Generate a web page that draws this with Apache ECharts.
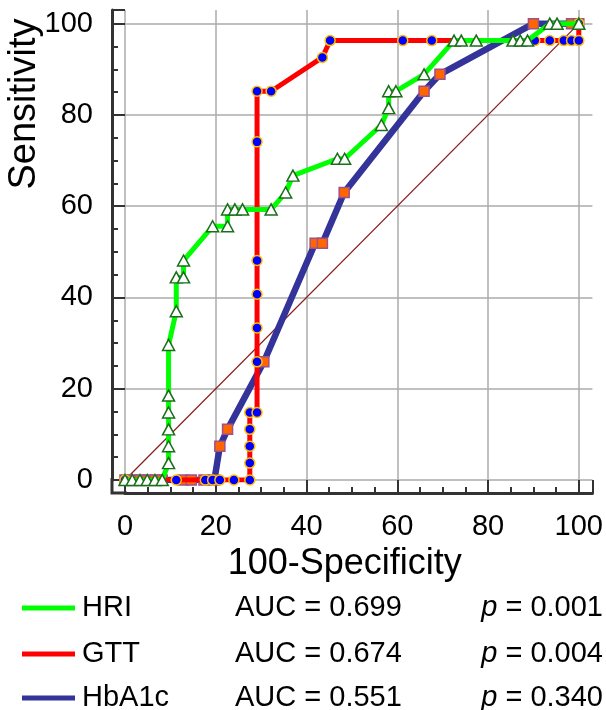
<!DOCTYPE html>
<html><head><meta charset="utf-8">
<script src="https://cdn.jsdelivr.net/npm/echarts@6/dist/echarts.min.js"></script>
<style>html,body{margin:0;padding:0;background:#fff}#c{width:606px;height:710px}</style>
</head><body><div id="c"></div>
<script>
// ---- data ----
const hriX = [0,1.6,3.3,4.9,6.6,8.2,9.6,9.6,9.6,9.6,9.6,9.6,11.3,11.3,12.9,12.9,19.3,22.6,22.6,24.2,25.9,32.2,35.4,37.0,46.8,48.4,56.5,58.1,58.1,59.7,65.9,72.5,74.1,77.4,85.5,87.1,88.7,93.6,95.2,100];
const hriY = [0,0,0,0,0,0,3.7,7.4,11.1,14.8,18.5,29.6,37.0,44.4,44.4,48.1,55.6,55.6,59.3,59.3,59.3,59.3,63.0,66.7,70.4,70.4,77.8,81.5,85.2,85.2,88.9,96.3,96.3,96.3,96.3,96.3,96.3,100,100,100];
const gttX = [0,11.3,17.7,19.3,20.9,24.0,27.5,27.5,27.5,27.5,27.5,29.1,29.1,29.1,29.1,29.1,29.1,29.1,32.2,43.5,45.2,61.2,67.6,90.3,93.6,96.7,98.4,100,100];
const gttY = [0,0,0,0,0,0,0,3.7,7.4,11.1,14.8,14.8,25.9,33.3,40.7,48.1,74.1,85.2,85.2,92.6,96.3,96.3,96.3,96.3,96.3,96.3,96.3,96.3,100];
const hbaX = [0,1.6,3.3,4.9,6.6,8.2,12.8,14.6,17.4,19.7,20.9,22.6,30.6,41.9,43.5,48.3,65.9,69.4,90.0,98.4,100];
const hbaY = [0,0,0,0,0,0,0,0,0,0,7.4,11.1,25.9,51.9,51.9,63.0,85.2,88.9,100,100,100];
const refX = [0,100];
const refY = [0,100];
const names = ['HRI','GTT','HbA1c'];
const aucs = ['0.699','0.674','0.551'];
const pvals = ['0.001','0.004','0.340'];
const xTitle = '100-Specificity';
const yTitle = 'Sensitivity';

// ---- styling ----
const FONT = '"Liberation Sans", Arial, sans-serif';
const colors = ['#00ff00','#ff0000','#333399'];
const GL = 125, GR = 10, GT = 10, GB = 230, OFF = 13;
const pairs = (xs, ys) => xs.map((x, i) => [x, ys[i]]);

function majorAxis(pos) {
  return {
    type: 'value', min: 0, max: 103, interval: 20, position: pos, offset: OFF,
    axisLine: {show: true, onZero: false, lineStyle: {color: '#333', width: 3}},
    axisTick: {show: true, inside: true, length: 13, lineStyle: {color: '#333', width: 2}},
    axisLabel: {formatter: v => (v % 20 === 0 ? String(v) : ''), fontSize: 29, color: '#000',
                fontFamily: FONT, margin: pos === 'bottom' ? 19 : 19},
    splitLine: {show: true, showMinLine: true, showMaxLine: false, lineStyle: {color: '#ababab', width: 1.5}}
  };
}
function minorAxis(pos) {
  return {
    type: 'value', min: 0, max: 103, interval: 5, position: pos, offset: OFF,
    axisLine: {show: false, onZero: false},
    axisTick: {show: true, inside: true, length: 6, lineStyle: {color: '#333', width: 2}},
    axisLabel: {show: false}, splitLine: {show: false}
  };
}

const chart = echarts.init(document.getElementById('c'));
const legendGraphics = [];
const rowY = [608, 654, 698];
names.forEach((n, i) => {
  legendGraphics.push({type: 'line', shape: {x1: 22, y1: rowY[i], x2: 75, y2: rowY[i]},
    style: {stroke: colors[i], lineWidth: 5}});
  legendGraphics.push({type: 'text', x: 82, y: rowY[i],
    style: {text: n, font: '29px ' + FONT, fill: '#000', textVerticalAlign: 'middle', verticalAlign: 'middle'}});
  legendGraphics.push({type: 'text', x: 235, y: rowY[i],
    style: {text: 'AUC = ' + aucs[i], font: '29px ' + FONT, fill: '#000', textVerticalAlign: 'middle', verticalAlign: 'middle'}});
  legendGraphics.push({type: 'text', x: 603, y: rowY[i],
    style: {text: '{i|p} = ' + pvals[i], font: '29px ' + FONT, fill: '#000', align: 'right', textAlign: 'right',
      verticalAlign: 'middle', textVerticalAlign: 'middle',
      rich: {i: {fontStyle: 'italic', fontSize: 29, fontFamily: FONT}}}});
});

const option = {
  animation: false,
  backgroundColor: '#fff',
  grid: {left: GL, right: GR, top: GT, bottom: GB, containLabel: false},
  xAxis: [Object.assign(majorAxis('bottom'), {name: xTitle, nameLocation: 'middle', nameGap: 53,
            nameTextStyle: {fontSize: 36, color: '#000', fontFamily: FONT, padding: [0, 28, 0, 0]}}), minorAxis('bottom')],
  yAxis: [majorAxis('left'), minorAxis('left')],
  graphic: [
    {type: 'polyline', shape: {points: [[GL - OFF, 478], [GL - OFF, 480 + OFF], [GL + 2, 480 + OFF]]},
      style: {stroke: '#333', lineWidth: 3, fill: null}},
    {type: 'text', x: 25, y: 104, rotation: Math.PI / 2,
      style: {text: yTitle, font: '38px ' + FONT, fill: '#000', align: 'center', textAlign: 'center',
              verticalAlign: 'middle', textVerticalAlign: 'middle'}}
  ].concat(legendGraphics),
  series: [
    {type: 'line', name: 'ref', data: pairs(refX, refY), symbol: 'none', z: 1,
      lineStyle: {color: '#8b1a1a', width: 1.2}},
    {type: 'line', name: 'HbA1c', data: pairs(hbaX, hbaY), z: 2, symbol: 'rect', symbolSize: 10, showAllSymbol: true,
      lineStyle: {color: colors[2], width: 6.5}, itemStyle: {color: '#ff6600', borderColor: '#a0508a', borderWidth: 1.5}},
    {type: 'line', name: 'GTT', data: pairs(gttX, gttY), z: 3, symbol: 'circle', symbolSize: 10, showAllSymbol: true,
      lineStyle: {color: colors[1], width: 5}, itemStyle: {color: '#0000ff', borderColor: '#ffc000', borderWidth: 1.5}},
    {type: 'line', name: 'HRI', data: pairs(hriX, hriY), z: 4, symbol: 'triangle', symbolSize: [12, 11], showAllSymbol: true,
      lineStyle: {color: colors[0], width: 5}, itemStyle: {color: '#ffffff', borderColor: '#1a6e1a', borderWidth: 1.5}}
  ]
};
chart.setOption(option);
</script></body></html>
